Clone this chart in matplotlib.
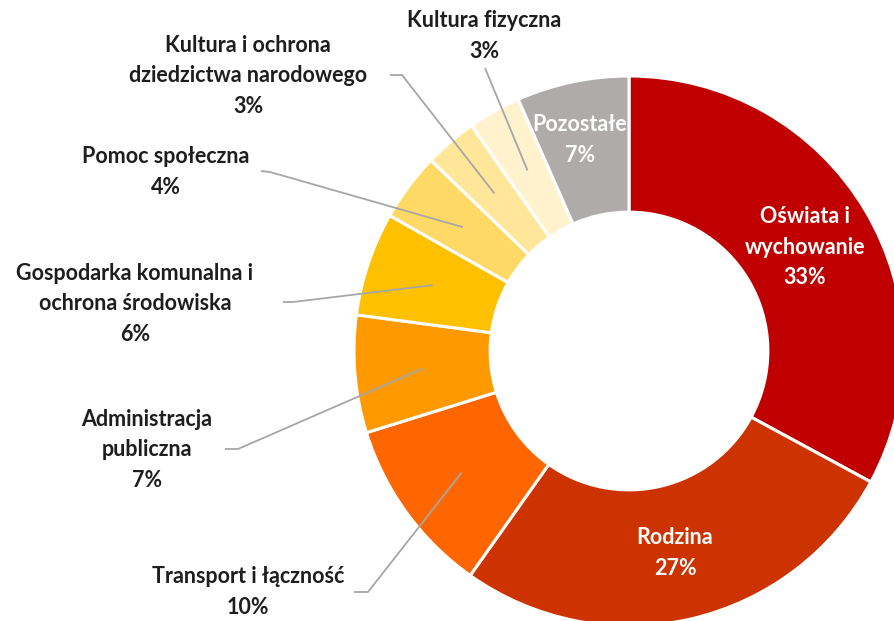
import numpy as np
import matplotlib
matplotlib.use("Agg")
import matplotlib.pyplot as plt

labels = ['Oświata i\nwychowanie', 'Rodzina', 'Transport i łączność', 'Administracja\npubliczna',
          'Gospodarka komunalna i\nochrona środowiska', 'Pomoc społeczna',
          'Kultura i ochrona\ndziedzictwa narodowego', 'Kultura fizyczna', 'Pozostałe']
values = [32.9, 26.9, 10.4, 6.9, 6.1, 4.0, 3.1, 3.1, 6.6]
colors = ['#C00000', '#CC3300', '#FF6600', '#FF9900', '#FFC000', '#FFD966', '#FFE699', '#FFF2CC', '#AFABAB']

plt.rcParams['font.family'] = ['Lato', 'DejaVu Sans']

W, H = 895, 621
cx, cy, R = 629, 351, 275  # pixel centre and radius of the donut


def px(x, y):
    # pixel (from top-left) -> data coords
    return (x - cx) / R, (cy - y) / R


fig = plt.figure(figsize=(W / 100, H / 100), dpi=100)
ax = fig.add_axes([0, 0, 1, 1])
wedges, _ = ax.pie(values, colors=colors, startangle=90, counterclock=False, radius=1,
                   wedgeprops={'width': 0.495, 'edgecolor': 'white', 'linewidth': 2.2})
ax.set_xlim(-cx / R, (W - cx) / R)
ax.set_ylim(-(H - cy) / R, cy / R)
ax.set_aspect('equal')
ax.axis('off')

total = sum(values)
cum = np.cumsum([0] + values)
mid_angles = [np.deg2rad(90 - 360 * (cum[i] + values[i] / 2) / total) for i in range(len(values))]

# label positions (pixel) and whether inside the ring
label_pos = [(805, 247), (675, 553), (248, 592), (147, 450), (135, 304),
             (166, 172), (248, 76), (484, 36), (580, 140)]
inside = [True, True, False, False, False, False, False, False, True]
# leader start points (pixel): text-side end and elbow
leaders = {2: [(354, 592), (368, 592)], 3: [(225, 449), (238, 449)],
           4: [(283, 302), (293, 302)], 5: [(261, 171), (270, 172)],
           6: [(390, 75), (402, 75)], 7: [(485, 68)]}

for i, (lab, v) in enumerate(zip(labels, values)):
    x, y = px(*label_pos[i])
    ax.text(x, y, f'{lab}\n{round(v)}%', ha='center', va='center', fontsize=15.5, fontweight='bold',
            color='white' if inside[i] else '#1E1E1E', linespacing=1.53)
    if i in leaders:
        pts = [px(*p) for p in leaders[i]]
        a = mid_angles[i]
        pts.append((0.753 * np.cos(a), 0.753 * np.sin(a)))
        xs, ys = zip(*pts)
        ax.plot(xs, ys, color='#A6A6A6', lw=1.3, solid_capstyle='butt')

fig.savefig('out.png', dpi=100)
